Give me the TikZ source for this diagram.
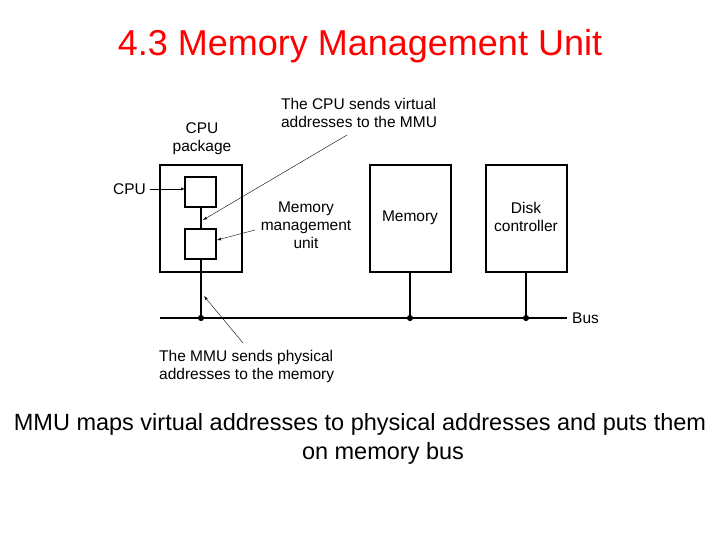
\documentclass[tikz,border=0pt]{standalone}
\usepackage{fontspec}
\setmainfont{Liberation Sans}
\begin{document}
\begin{tikzpicture}[x=1pt, y=-1pt,
    box/.style={draw, line width=1.5pt},
    lbl/.style={font=\fontsize{15.5}{18}\selectfont, align=center, inner sep=1pt},
    pt/.style={circle, fill, inner sep=2.2pt}]
    \useasboundingbox (0,0) rectangle (720,540);

    \node[text=red, font=\fontsize{36}{40}\selectfont] (title) at (360, 46) {4.3 Memory Management Unit};

    \draw[box] (160,165) rectangle (242,272);
    \draw[box] (185,177) rectangle (216,207);
    \draw[box] (185,229) rectangle (216,259);
    \draw[box] (370,165) rectangle (451,272);
    \draw[box] (486,165) rectangle (567,272);

    \coordinate (cpub) at (201,207);
    \coordinate (mmut) at (201,229);
    \coordinate (mmub) at (201,259);
    \coordinate (memb) at (410,272);
    \coordinate (dskb) at (526,272);
    \node[pt] (j0) at (201,318) {};
    \node[pt] (j1) at (410,318) {};
    \node[pt] (j2) at (526,318) {};
    \coordinate (busl) at (160,318);
    \coordinate (busr) at (567,318);

    \draw[line width=1.5pt] (cpub) -- (mmut);
    \draw[line width=1.5pt] (mmub) -- (j0);
    \draw[line width=1.5pt] (memb) -- (j1);
    \draw[line width=1.5pt] (dskb) -- (j2);
    \draw[line width=1.5pt] (busl) -- (busr);

    \node[lbl, anchor=west] (bus) at (571,318) {Bus};
    \node[lbl] (mem) at (410,218) {Memory};
    \node[lbl] (dsk) at (526,217) {Disk\\controller};
    \node[lbl] (pkg) at (202,139) {CPU\\package};
    \node[lbl, anchor=east, inner xsep=4pt] (cpu) at (150,189) {CPU};
    \node[lbl, align=left] (virt) at (359,113) {The CPU sends virtual\\addresses to the MMU};
    \node[lbl] (mmu) at (306,225) {Memory\\management\\unit};
    \node[lbl, align=left, anchor=west] (phys) at (158,366) {The MMU sends physical\\addresses to the memory};

    \coordinate (a1) at (347,135);
    \coordinate (a2) at (255,230);
    \coordinate (a3) at (243,343);
    \draw[-latex] (cpu) -- (185,189);
    \draw[-latex] (a1) -- (203,220);
    \draw[-latex] (a2) -- (217,240);
    \draw[-latex] (a3) -- (204,296);

    \node[font=\fontsize{23.5}{29}\selectfont, align=center] (note) at (360,439)
      {MMU maps virtual addresses to physical addresses and puts them\\\hspace*{46pt}on memory bus};
\end{tikzpicture}
\end{document}
